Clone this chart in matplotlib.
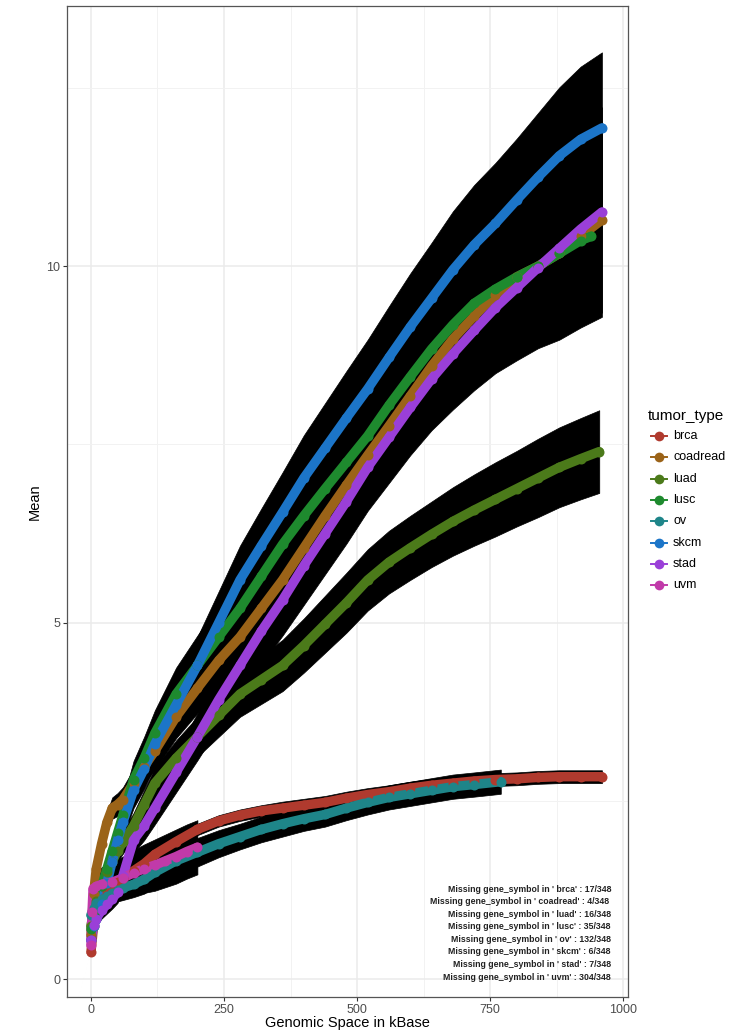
import matplotlib
matplotlib.use("Agg")
import matplotlib.pyplot as plt
from matplotlib.lines import Line2D
import numpy as np

plt.rcParams['font.family'] = ['Liberation Sans', 'DejaVu Sans']

# ---------------- data ----------------
TUMOR_TYPES = ["brca", "coadread", "luad", "lusc", "ov", "skcm", "stad", "uvm"]
COLORS = ["#B03A2E", "#9B6318", "#4B7A1A", "#1E8A2E", "#1E8589", "#1C75C8", "#9A3FD8", "#C13AA9"]

X_BRCA = [0, 5, 10, 20, 30, 40, 50, 60, 80, 100, 120, 160, 200, 240, 280, 320, 360, 400, 440, 480, 520, 560, 600, 640, 680, 720, 760, 800, 840, 880, 920, 960]
MEAN_BRCA = [0.38, 0.75, 0.95, 1.12, 1.22, 1.3, 1.36, 1.42, 1.52, 1.62, 1.75, 1.93, 2.1, 2.22, 2.3, 2.36, 2.4, 2.44, 2.48, 2.54, 2.59, 2.63, 2.68, 2.72, 2.75, 2.78, 2.8, 2.81, 2.83, 2.84, 2.84, 2.84]
SD_BRCA = [0.02, 0.03, 0.04, 0.05, 0.05, 0.05, 0.06, 0.06, 0.06, 0.07, 0.07, 0.08, 0.08, 0.08, 0.08, 0.08, 0.09, 0.09, 0.09, 0.09, 0.09, 0.09, 0.09, 0.09, 0.09, 0.09, 0.09, 0.09, 0.09, 0.09, 0.09, 0.09]

X_COADREAD = [0, 5, 10, 20, 30, 40, 50, 60, 80, 100, 120, 160, 200, 240, 280, 320, 360, 400, 440, 480, 520, 560, 600, 640, 680, 720, 760, 800, 840, 880, 920, 960]
MEAN_COADREAD = [0.62, 1.2, 1.55, 1.9, 2.2, 2.4, 2.45, 2.52, 2.75, 2.98, 3.2, 3.68, 4.08, 4.47, 4.8, 5.2, 5.6, 6.05, 6.5, 6.93, 7.35, 7.76, 8.18, 8.6, 8.98, 9.3, 9.6, 9.85, 10.0, 10.18, 10.42, 10.65]
SD_COADREAD = [0.05, 0.08, 0.1, 0.12, 0.14, 0.15, 0.16, 0.17, 0.2, 0.23, 0.26, 0.3, 0.35, 0.4, 0.43, 0.47, 0.5, 0.53, 0.55, 0.57, 0.6, 0.63, 0.66, 0.7, 0.75, 0.8, 0.88, 0.95, 1.03, 1.12, 1.2, 1.3]

X_LUAD = [0, 5, 10, 20, 30, 40, 50, 60, 80, 100, 120, 160, 200, 240, 280, 320, 360, 400, 440, 480, 520, 560, 600, 640, 680, 720, 760, 800, 840, 880, 920, 955]
MEAN_LUAD = [0.75, 0.95, 1.1, 1.3, 1.5, 1.65, 1.8, 1.92, 2.15, 2.45, 2.75, 3.1, 3.4, 3.7, 4.0, 4.2, 4.4, 4.68, 4.98, 5.28, 5.6, 5.85, 6.05, 6.24, 6.42, 6.58, 6.73, 6.88, 7.03, 7.18, 7.3, 7.4]
SD_LUAD = [0.05, 0.07, 0.08, 0.1, 0.12, 0.13, 0.15, 0.16, 0.18, 0.2, 0.22, 0.25, 0.28, 0.3, 0.32, 0.34, 0.36, 0.38, 0.4, 0.42, 0.43, 0.44, 0.45, 0.46, 0.48, 0.5, 0.52, 0.53, 0.55, 0.56, 0.57, 0.58]

X_LUSC = [0, 5, 10, 20, 30, 40, 50, 60, 80, 100, 120, 160, 200, 240, 280, 320, 360, 400, 440, 480, 520, 560, 600, 640, 680, 720, 760, 800, 840, 880, 920, 940]
MEAN_LUSC = [0.7, 0.9, 1.05, 1.3, 1.55, 1.8, 2.05, 2.3, 2.8, 3.1, 3.45, 4.0, 4.4, 4.8, 5.2, 5.65, 6.1, 6.5, 6.88, 7.25, 7.62, 8.05, 8.45, 8.84, 9.18, 9.48, 9.68, 9.85, 10.0, 10.18, 10.36, 10.42]
SD_LUSC = [0.05, 0.08, 0.1, 0.12, 0.15, 0.18, 0.2, 0.22, 0.26, 0.3, 0.32, 0.37, 0.42, 0.46, 0.5, 0.54, 0.58, 0.62, 0.66, 0.7, 0.74, 0.78, 0.82, 0.86, 0.9, 0.94, 0.98, 1.0, 1.02, 1.05, 1.08, 1.1]

X_OV = [0, 5, 10, 20, 30, 40, 50, 60, 80, 100, 120, 160, 200, 240, 280, 320, 360, 400, 440, 480, 520, 560, 600, 640, 680, 720, 770]
MEAN_OV = [0.9, 1.0, 1.07, 1.12, 1.17, 1.21, 1.25, 1.28, 1.33, 1.4, 1.5, 1.66, 1.78, 1.9, 2.0, 2.1, 2.18, 2.25, 2.31, 2.4, 2.48, 2.55, 2.6, 2.65, 2.7, 2.73, 2.77]
SD_OV = [0.05, 0.08, 0.1, 0.12, 0.14, 0.15, 0.16, 0.17, 0.18, 0.2, 0.2, 0.2, 0.2, 0.19, 0.18, 0.18, 0.18, 0.17, 0.17, 0.17, 0.17, 0.17, 0.17, 0.17, 0.17, 0.17, 0.17]

X_SKCM = [0, 5, 10, 20, 30, 40, 50, 60, 80, 100, 120, 160, 200, 240, 280, 320, 360, 400, 440, 480, 520, 560, 600, 640, 680, 720, 760, 800, 840, 880, 920, 960]
MEAN_SKCM = [0.55, 0.75, 0.85, 1.05, 1.35, 1.65, 1.95, 2.2, 2.65, 2.95, 3.3, 3.85, 4.4, 5.0, 5.6, 6.08, 6.55, 7.03, 7.45, 7.87, 8.28, 8.72, 9.15, 9.55, 9.95, 10.3, 10.6, 10.93, 11.25, 11.55, 11.78, 11.94]
SD_SKCM = [0.05, 0.08, 0.1, 0.12, 0.15, 0.18, 0.2, 0.22, 0.25, 0.28, 0.3, 0.35, 0.4, 0.44, 0.48, 0.52, 0.56, 0.6, 0.63, 0.66, 0.69, 0.72, 0.75, 0.78, 0.82, 0.84, 0.85, 0.86, 0.9, 0.96, 1.02, 1.06]

X_STAD = [0, 5, 10, 20, 30, 40, 50, 60, 80, 100, 120, 160, 200, 240, 280, 320, 360, 400, 440, 480, 520, 560, 600, 640, 680, 720, 760, 800, 840, 880, 920, 960]
MEAN_STAD = [0.55, 0.76, 0.85, 0.97, 1.05, 1.13, 1.22, 1.45, 1.95, 2.15, 2.4, 2.9, 3.4, 3.92, 4.4, 4.88, 5.32, 5.8, 6.25, 6.7, 7.18, 7.6, 8.02, 8.42, 8.77, 9.1, 9.42, 9.7, 9.98, 10.25, 10.52, 10.76]
SD_STAD = [0.05, 0.08, 0.1, 0.12, 0.13, 0.14, 0.15, 0.16, 0.18, 0.2, 0.23, 0.28, 0.33, 0.38, 0.42, 0.46, 0.5, 0.55, 0.57, 0.59, 0.61, 0.64, 0.67, 0.72, 0.78, 0.84, 0.92, 1.02, 1.13, 1.28, 1.38, 1.47]

X_UVM = [0, 2, 4, 10, 20, 40, 60, 80, 100, 120, 140, 160, 180, 200]
MEAN_UVM = [0.48, 0.94, 1.27, 1.3, 1.33, 1.36, 1.42, 1.49, 1.55, 1.6, 1.66, 1.72, 1.79, 1.85]
SD_UVM = [0.05, 0.1, 0.15, 0.2, 0.24, 0.28, 0.3, 0.32, 0.34, 0.36, 0.37, 0.38, 0.38, 0.38]

MISSING = [17, 4, 16, 35, 132, 6, 7, 304]
TOTAL = 348

X_TICKS = [0, 250, 500, 750, 1000]
Y_TICKS = [0, 5, 10]

SERIES = [
    (X_BRCA, MEAN_BRCA, SD_BRCA),
    (X_COADREAD, MEAN_COADREAD, SD_COADREAD),
    (X_LUAD, MEAN_LUAD, SD_LUAD),
    (X_LUSC, MEAN_LUSC, SD_LUSC),
    (X_OV, MEAN_OV, SD_OV),
    (X_SKCM, MEAN_SKCM, SD_SKCM),
    (X_STAD, MEAN_STAD, SD_STAD),
    (X_UVM, MEAN_UVM, SD_UVM),
]

# ---------------- figure ----------------
W, H = 738, 1032
fig = plt.figure(figsize=(W / 100, H / 100), dpi=100)
fig.patch.set_facecolor("white")
L, R, T, B = 67, 628, 6, 997
ax = fig.add_axes([L / W, 1 - B / H, (R - L) / W, (B - T) / H])
ax.set_xlim(-45, 1009)
ax.set_ylim(-0.25, 13.65)

# grid
ax.set_xticks(X_TICKS)
ax.set_yticks(Y_TICKS)
ax.set_xticks([125, 375, 625, 875], minor=True)
ax.set_yticks([2.5, 7.5, 12.5], minor=True)
ax.grid(True, which="major", color="#EBEBEB", lw=1.1, zorder=0)
ax.grid(True, which="minor", color="#F2F2F2", lw=0.7, zorder=0)
ax.set_axisbelow(True)
ax.tick_params(which="minor", length=0)
ax.tick_params(which="major", length=3, width=0.8, color="#333333",
               labelsize=9, labelcolor="#4D4D4D", pad=2)
for s in ax.spines.values():
    s.set_color("#555555")
    s.set_linewidth(0.9)

# error bars (black, drawn as dense ranges between mean - sd and mean + sd)
for (xs, m, sd) in SERIES:
    xs = np.array(xs, float); m = np.array(m); sd = np.array(sd)
    ax.fill_between(xs, m - sd, m + sd, color="black", lw=0.5, edgecolor="black", zorder=2)

# lines + points
for (xs, m, sd), c in zip(SERIES, COLORS):
    ax.plot(xs, m, color=c, lw=6.8, solid_capstyle="round", solid_joinstyle="round", zorder=3)
    ax.plot(xs, m, "o", color=c, ms=7.2, mew=0, zorder=4)

ax.set_xlabel("Genomic Space in kBase", fontsize=10.5, color="black", labelpad=0)
ax.set_ylabel("Mean", fontsize=10.5, color="black", labelpad=3)

# annotation text
for i, (name, n) in enumerate(zip(TUMOR_TYPES, MISSING)):
    txt = "Missing gene_symbol in ' %s' : %d/%d" % (name, n, TOTAL)
    if name == "coadread":
        txt += " "
    ypx = 889 + 12.6 * i
    ax.text((611 - L) / (R - L), (B - ypx) / (B - T), txt, transform=ax.transAxes,
            ha="right", va="center", fontsize=6.3, fontweight="bold", color="#222222")

# legend (manual, ggplot style)
fig.text(648 / W, 1 - 416 / H, "tumor_type", fontsize=11, va="center", ha="left")
for i, (name, c) in enumerate(zip(TUMOR_TYPES, COLORS)):
    ypx = 436 + 21.3 * i
    yf = 1 - ypx / H
    fig.add_artist(Line2D([651 / W, 667 / W], [yf, yf], transform=fig.transFigure,
                          color=c, lw=1.4))
    fig.add_artist(Line2D([659 / W], [yf], transform=fig.transFigure, marker="o",
                          ms=7, mew=0, color=c))
    fig.text(673 / W, yf, name, fontsize=9, va="center", ha="left", color="black")

fig.savefig("out.png", dpi=100, facecolor="white")
